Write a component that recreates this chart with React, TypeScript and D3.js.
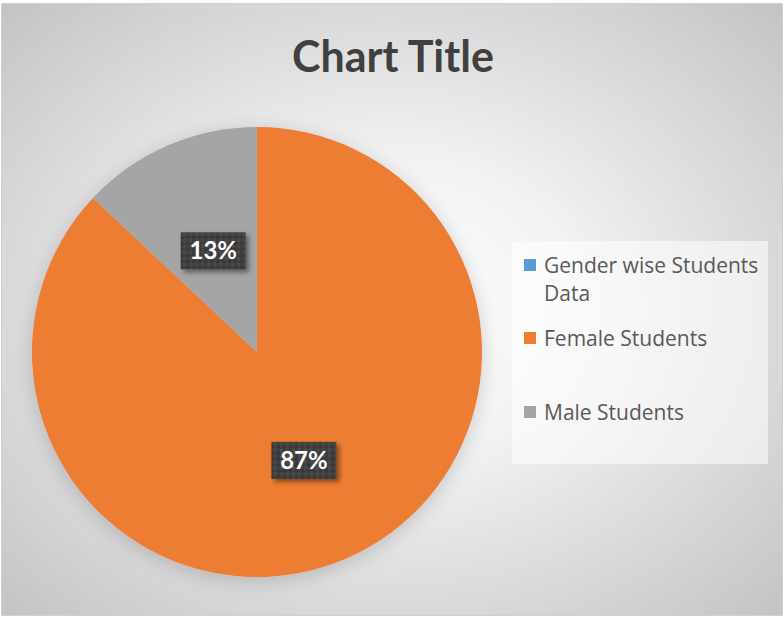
import React from "react";
import * as d3 from "d3";

const categories = ["Gender wise Students Data", "Female Students", "Male Students"];
const values = [0, 87, 13];
const colors = ["#5B9BD5", "#ED7D31", "#A5A5A5"];
const title = "Chart Title";

const W = 784;
const H = 617;

export default function App() {
  const cx = 257;
  const cy = 352;
  const r = 225;
  const pie = d3.pie<number>().sort(null).value((d) => d);
  const arcs = pie(values);
  const arc = d3.arc<d3.PieArcDatum<number>>().innerRadius(0).outerRadius(r);
  const total = d3.sum(values);
  const labelFrac = [0.5, 0.525, 0.49];

  const legendY = [273, 346, 420];

  return (
    <svg
      width={W}
      height={H}
      style={{ position: "absolute", left: 0, top: 0 }}
      fontFamily="Lato, 'Open Sans', sans-serif"
    >
      <defs>
        <radialGradient id="bg" cx="50%" cy="50%" r="70%">
          <stop offset="0%" stopColor="#ffffff" />
          <stop offset="35%" stopColor="#f2f2f2" />
          <stop offset="100%" stopColor="#c4c4c4" />
        </radialGradient>
        <pattern id="lblpat" width="6" height="6" patternUnits="userSpaceOnUse">
          <rect width="6" height="6" fill="#404040" />
          <rect width="3" height="3" fill="#4a4a4a" />
          <rect x="3" y="3" width="3" height="3" fill="#383838" />
        </pattern>
        <filter id="pieShadow" x="-20%" y="-20%" width="140%" height="140%">
          <feGaussianBlur in="SourceAlpha" stdDeviation="10" />
          <feOffset dx="0" dy="4" result="b" />
          <feComponentTransfer>
            <feFuncA type="linear" slope="0.18" />
          </feComponentTransfer>
          <feMerge>
            <feMergeNode />
            <feMergeNode in="SourceGraphic" />
          </feMerge>
        </filter>
        <filter id="lblShadow" x="-30%" y="-30%" width="160%" height="160%">
          <feGaussianBlur in="SourceAlpha" stdDeviation="2.5" />
          <feOffset dx="3" dy="3" />
          <feComponentTransfer>
            <feFuncA type="linear" slope="0.45" />
          </feComponentTransfer>
          <feMerge>
            <feMergeNode />
            <feMergeNode in="SourceGraphic" />
          </feMerge>
        </filter>
      </defs>
      <rect x={1.5} y={3.5} width={781} height={612} fill="url(#bg)" stroke="#d0d0d0" strokeWidth={1} />
      <text
        x={393}
        y={72}
        textAnchor="middle"
        fontSize={43}
        fontWeight="bold"
        fill="#404040"
      >
        {title}
      </text>

      <g transform={`translate(${cx},${cy})`} filter="url(#pieShadow)">
        {arcs.map((a, i) =>
          a.value > 0 ? <path key={i} d={arc(a) || ""} fill={colors[i]} /> : null
        )}
      </g>

      {arcs.map((a, i) => {
        if (a.value <= 0) return null;
        const [lx, ly] = arc.centroid(a);
        const k = labelFrac[i] / 0.5;
        const x = cx + lx * k;
        const y = cy + ly * k;
        const label = `${Math.round((a.value / total) * 100)}%`;
        return (
          <g key={"l" + i} transform={`translate(${x},${y})`}>
            <rect x={-32.5} y={-18.5} width={65} height={37} fill="url(#lblpat)" filter="url(#lblShadow)" />
            <text x={0} y={8.5} textAnchor="middle" fontSize={24} fontWeight="bold" fill="#ffffff">
              {label}
            </text>
          </g>
        );
      })}

      <rect x={512} y={241} width={256} height={223} fill="#ffffff" fillOpacity={0.55} />
      {categories.map((c, i) => (
        <g key={"g" + i} fontFamily="'Open Sans', sans-serif">
          <rect x={524} y={legendY[i] - 14} width={12} height={12} fill={colors[i]} />
          {i === 0 ? (
            <text x={544} y={legendY[i]} fontSize={21} fill="#595959">
              <tspan x={544}>Gender wise Students</tspan>
              <tspan x={544} y={301}>Data</tspan>
            </text>
          ) : (
            <text x={544} y={legendY[i]} fontSize={21} fill="#595959">
              {c}
            </text>
          )}
        </g>
      ))}
    </svg>
  );
}
